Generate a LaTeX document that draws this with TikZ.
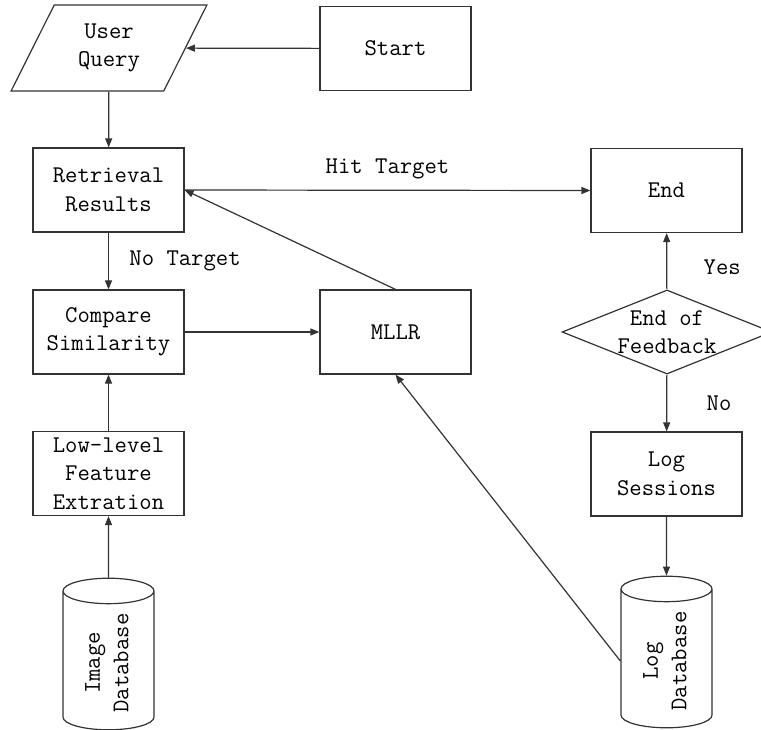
\documentclass[tikz,border=0pt]{standalone}
\usepackage{graphicx}
\usetikzlibrary{shapes.geometric,arrows.meta,positioning}

\begin{document}
\begin{tikzpicture}[x=1pt,y=-1pt,
    font=\ttfamily\fontsize{24}{28.5}\selectfont,
    box/.style={draw=black!80, line width=1.2pt, rectangle, minimum width=151pt, minimum height=84pt, align=center},
    io/.style={draw=black!80, line width=1.2pt, trapezium, trapezium left angle=64, trapezium right angle=116,
        trapezium stretches=true, minimum width=196pt, minimum height=86pt, align=center},
    db/.style={draw=black!80, line width=1.2pt, cylinder, shape border rotate=90, aspect=0.4,
        minimum width=91pt, minimum height=146pt, anchor=shape center},
    decision/.style={draw=black!80, line width=1.2pt, diamond, minimum width=210pt, minimum height=84pt,
        inner xsep=-30pt, inner ysep=-20pt, align=center},
    flow/.style={draw=black!80, line width=1.2pt, -{Triangle[length=9pt,width=7pt]}}]
    \useasboundingbox (0,0) rectangle (761,730);

    % Left column
    \node[io] (query) at (109,48) {User\\Query};
    \node[box] (results) at (108.5,190) {Retrieval\\Results};
    \node[box] (compare) at (108.5,332) {Compare\\Similarity};
    \node[box] (feature) at (108.5,473.5) {Low-level\\Feature\\Extration};
    \node[db] (imgdb) at (108.5,654) {\rotatebox{90}{\begin{tabular}{c}Image\\Database\end{tabular}}};

    % Middle column
    \node[box] (start) at (395.5,48.5) {Start};
    \node[box] (mllr) at (395.5,332) {MLLR};

    % Right column
    \node[box] (finish) at (666.5,190.5) {End};
    \node[decision] (feedback) at (667,332) {End of\\Feedback};
    \node[box] (logs) at (666.5,474) {Log\\Sessions};
    \node[db] (logdb) at (666.5,652) {\rotatebox{90}{\begin{tabular}{c}Log\\Database\end{tabular}}};

    % Connections
    \draw[flow] (start) -- (query);
    \draw[flow] (query) -- (results);
    \draw[flow] (results) -- node[right=17pt] {No Target} (compare);
    \draw[flow] (feature) -- (compare);
    \draw[flow] (imgdb) -- (feature);
    \draw[flow] (compare) -- (mllr);
    \draw[flow] (mllr.north) -- (results.east);
    \draw[flow] (results.east) -- node[above=7pt] {Hit Target} (finish.west);
    \draw[flow] (feedback) -- node[right=33pt, yshift=-6pt] {Yes} (finish);
    \draw[flow] (feedback) -- node[right=36pt] {No} (logs);
    \draw[flow] (logs) -- (logdb);
    \draw[flow] (logdb.west) -- (mllr.south);

\end{tikzpicture}
\end{document}
